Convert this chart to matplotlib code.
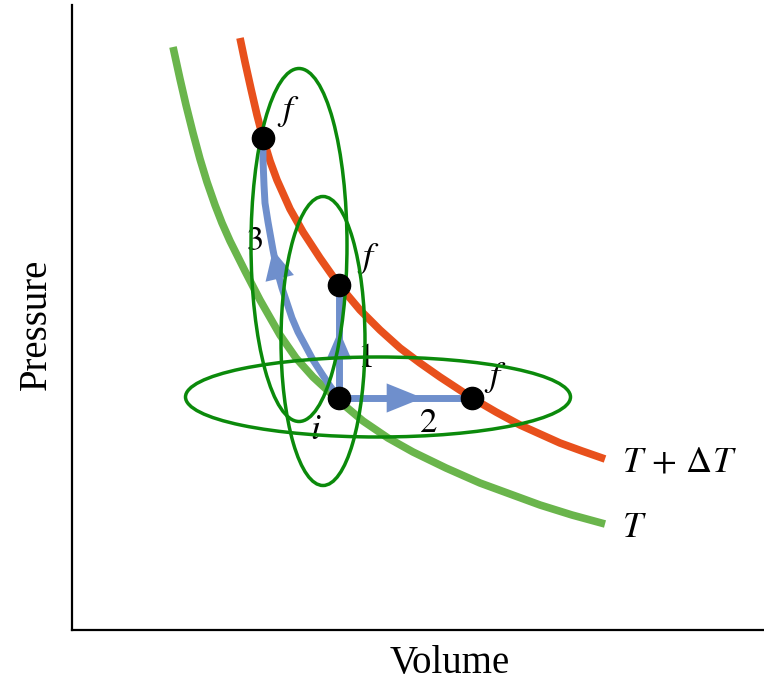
import matplotlib
matplotlib.use("Agg")
import matplotlib.pyplot as plt
from matplotlib.patches import Ellipse

plt.rcParams['mathtext.fontset'] = 'stix'

# isotherms, sampled (volume, pressure)
hot_V = [1.68, 1.73, 1.79, 1.85, 1.91, 1.98, 2.05, 2.18, 2.31, 2.48, 2.67, 2.88,
         3.08, 3.28, 3.48, 3.68, 4.00, 4.24, 4.48, 4.68, 4.88, 5.10, 5.33]
hot_P = [5.92, 5.68, 5.41, 5.15, 4.92, 4.69, 4.50, 4.21, 3.98, 3.72, 3.45, 3.20,
         3.00, 2.82, 2.67, 2.53, 2.32, 2.18, 2.05, 1.96, 1.87, 1.79, 1.71]
cold_V = [1.01, 1.08, 1.14, 1.21, 1.28, 1.35, 1.43, 1.50, 1.58, 1.73, 1.88, 2.08,
          2.24, 2.41, 2.66, 2.91, 3.16, 3.41, 3.74, 4.08, 4.38, 4.68, 5.00, 5.33]
cold_P = [5.83, 5.51, 5.25, 4.97, 4.71, 4.48, 4.25, 4.07, 3.89, 3.59, 3.30, 2.95,
          2.72, 2.53, 2.30, 2.09, 1.92, 1.78, 1.62, 1.47, 1.36, 1.25, 1.15, 1.06]

# initial state and the three final states
i_state = (2.67, 2.32)
f_states = [(2.67, 3.45), (4.00, 2.32), (1.91, 4.92)]

# process 3 (curved path from i to the upper f)
path3_V = [2.67, 2.58, 2.50, 2.41, 2.33, 2.26, 2.20, 2.15, 2.10, 2.05, 2.01, 1.96, 1.93, 1.92, 1.91, 1.91]
path3_P = [2.32, 2.44, 2.56, 2.70, 2.85, 2.98, 3.12, 3.27, 3.42, 3.60, 3.80, 4.08, 4.27, 4.45, 4.70, 4.92]
head3 = 10  # index of the arrow tip on path 3

# ellipses: centre, width, height
ellipses = [((2.27, 3.85), 0.96, 3.53),
            ((2.51, 2.89), 0.84, 2.89),
            ((3.06, 2.33), 3.85, 0.80)]

red = '#e8501c'
green = '#6ab54c'
blue = '#6f8fcc'
dkgreen = '#0b8a0b'

fig = plt.figure(figsize=(7.64, 6.81), dpi=100)
ax = fig.add_axes([72/764, 51/681, 692/764, 625/681])
ax.set_xlim(0, 6.92)
ax.set_ylim(0, 6.25)
for s in ['top', 'right']:
    ax.spines[s].set_visible(False)
for s in ['left', 'bottom']:
    ax.spines[s].set_linewidth(1.6)
ax.set_xticks([])
ax.set_yticks([])

curve_kw = dict(lw=5.5, solid_capstyle='butt', solid_joinstyle='round', zorder=2)
ax.plot(cold_V, cold_P, color=green, **curve_kw)
ax.plot(hot_V, hot_P, color=red, **curve_kw)

# process paths
iv, ip = i_state
blue_kw = dict(color=blue, lw=5, solid_capstyle='butt', solid_joinstyle='round', zorder=3)
ax.plot([iv, f_states[0][0]], [ip, f_states[0][1]], **blue_kw)
ax.plot([iv, f_states[1][0]], [ip, f_states[1][1]], **blue_kw)
ax.plot(path3_V, path3_P, **blue_kw)


def head(tip, tail, length, width):
    ax.annotate('', xy=tip, xytext=tail,
                arrowprops=dict(arrowstyle=f'-|>,head_length={length},head_width={width}',
                                color=blue, lw=0, shrinkA=0, shrinkB=0,
                                mutation_scale=10), zorder=3)


def along(a, b, t):
    return (a[0] + (b[0] - a[0]) * t, a[1] + (b[1] - a[1]) * t)


head(along(i_state, f_states[0], 0.6), i_state, 2.1, 0.9)
head(along(i_state, f_states[1], 0.63), i_state, 2.6, 1.05)
head((path3_V[head3], path3_P[head3]), (path3_V[head3 - 2], path3_P[head3 - 2]), 2.1, 1.05)

for c, w, h in ellipses:
    ax.add_patch(Ellipse(c, w, h, fill=False, edgecolor=dkgreen, lw=2.5, zorder=4))

ax.plot([iv] + [f[0] for f in f_states], [ip] + [f[1] for f in f_states],
        'o', color='black', ms=16, zorder=5, linestyle='none')

fs = 26
for f, off in zip(f_states, [(21, 19), (17, 15), (18, 19)]):
    ax.annotate('$f$', xy=f, xytext=off, textcoords='offset points',
                fontsize=fs, ha='center', va='center')
ax.annotate('$i$', xy=i_state, xytext=(-17, -22), textcoords='offset points',
            fontsize=fs, ha='center', va='center')

ax.text(2.93, 2.73, '$1$', fontsize=25, ha='center', va='center')
ax.text(3.56, 2.08, '$2$', fontsize=25, ha='center', va='center')
ax.text(1.82, 3.90, '$3$', fontsize=25, ha='center', va='center')

ax.annotate(r'$T\,+\,\Delta T$', xy=(hot_V[-1], hot_P[-1]), xytext=(12, -2),
            textcoords='offset points', fontsize=fs, ha='left', va='center')
ax.annotate('$T$', xy=(cold_V[-1], cold_P[-1]), xytext=(12, -2),
            textcoords='offset points', fontsize=fs, ha='left', va='center')

fig.text(450/764, 1 - 664/681, 'Volume', family='Liberation Serif', fontsize=28,
         ha='center', va='center')
fig.text(36/764, 1 - 324/681, 'Pressure', family='Liberation Serif', fontsize=28,
         ha='center', va='center', rotation=90)

fig.savefig('out.png', dpi=100)
